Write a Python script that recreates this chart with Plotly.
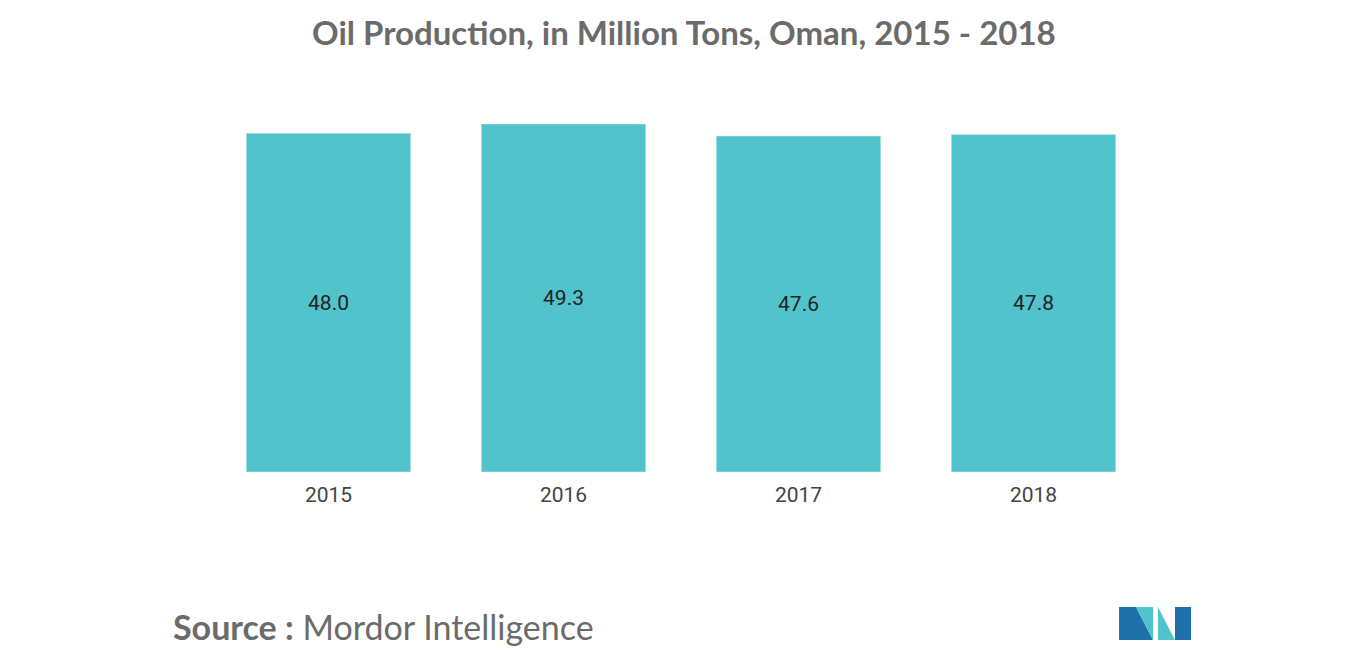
import plotly.graph_objects as go

years = ["2015", "2016", "2017", "2018"]
production = [48.0, 49.3, 47.6, 47.8]
labels = ["48.0", "49.3", "47.6", "47.8"]

L, R, T, B = 203, 223, 116, 191
W, H = 1366, 655
PW, PH = W - L - R, H - T - B

fig = go.Figure(go.Bar(
    x=years, y=production, text=labels, textposition="inside",
    insidetextanchor="middle", marker_color="#50C4CA", width=0.7,
    textfont=dict(family="Roboto", size=21, color="#222222"),
))

fig.update_layout(
    width=W, height=H, plot_bgcolor="white", paper_bgcolor="white",
    margin=dict(l=L, r=R, t=T, b=B),
    xaxis=dict(showline=False, ticks="", ticklabelstandoff=8,
               tickfont=dict(family="Roboto", size=21, color="#444444")),
    yaxis=dict(visible=False, range=[0, 49.3]),
    showlegend=False,
)

# title as annotation for exact placement
fig.add_annotation(xref="paper", yref="paper", x=(676 - L) / PW, y=(H - B - 24) / PH,
                   xanchor="center", yanchor="middle", showarrow=False,
                   text="<b>Oil Production, in Million Tons, Oman, 2015 - 2018</b>",
                   font=dict(family="Lato", size=33, color="#6b6b6b"))

fig.add_annotation(xref="paper", yref="paper", x=(163 - L) / PW, y=(H - B - 618) / PH,
                   xanchor="left", yanchor="middle", showarrow=False,
                   text="<b>Source :</b> Mordor Intelligence",
                   font=dict(family="Lato", size=34, color="#6b6b6b"))

def px(x, y):
    return f"{(x - L) / PW:.4f},{(H - B - y) / PH:.4f}"

# logo
for pts, col in [
    ([(1111, 632), (1111, 599), (1128, 599), (1145, 632)], "#1f6fa8"),
    ([(1128, 599), (1145, 599), (1145, 632)], "#50C4CA"),
    ([(1150, 632), (1150, 599), (1167, 632)], "#50C4CA"),
    ([(1167, 632), (1167, 599), (1183, 599), (1183, 632)], "#1f6fa8"),
]:
    path = "M " + " L ".join(px(x, y) for x, y in pts) + " Z"
    fig.add_shape(type="path", path=path, xref="paper", yref="paper", fillcolor=col, line_width=0)

fig.write_html("out.html")
